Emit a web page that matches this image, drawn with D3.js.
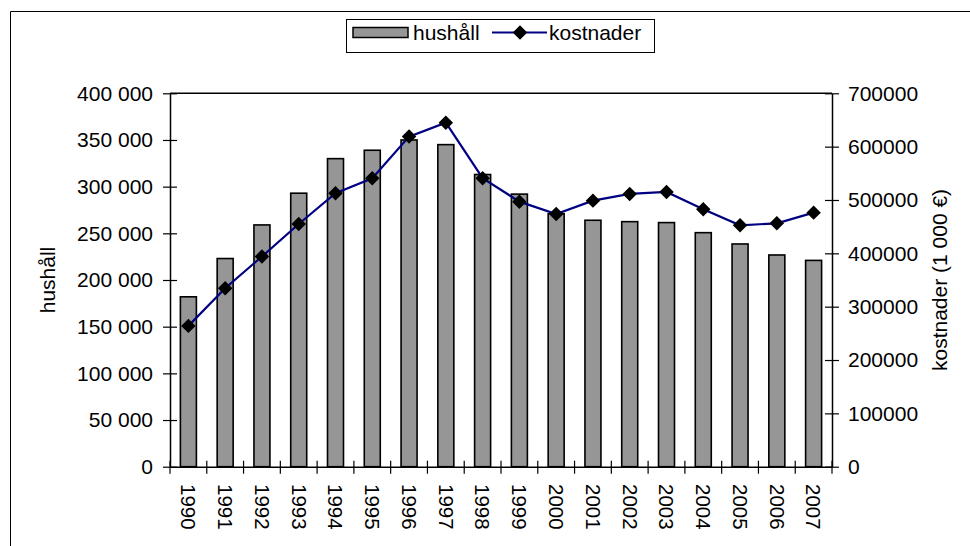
<!DOCTYPE html>
<html><head><meta charset="utf-8">
<script src="https://cdn.jsdelivr.net/npm/d3@7"></script>
<style>
html,body{margin:0;padding:0;background:#fff;}
svg{display:block;font-family:"Liberation Sans",Arial,sans-serif;}
</style></head>
<body>
<svg id="c" width="970" height="546"></svg>
<script>
const years = ["1990","1991","1992","1993","1994","1995","1996","1997","1998","1999","2000","2001","2002","2003","2004","2005","2006","2007"];
const hushall = [182000,223000,259000,293000,330000,339000,350000,345000,313000,292000,271000,264000,262500,261500,250700,238600,226800,221000];
const kostnader = [264000,334500,394000,455000,512600,540800,618800,645000,540800,496900,473800,498800,511300,515000,482600,452600,456300,476300];
const leftTicks = [0,50000,100000,150000,200000,250000,300000,350000,400000];
const rightTicks = [0,100000,200000,300000,400000,500000,600000,700000];
const seriesNames = ["hushåll","kostnader"];
const leftTitle = "hushåll";
const rightTitle = "kostnader (1 000 €)";

const svg = d3.select("#c");
const L = 170, R = 832, T = 93.3, B = 466.7;
const x = d3.scaleBand().domain(years).range([L, R]).paddingInner(0.565).paddingOuter(0.2825);
const xb = d3.scaleBand().domain(years).range([L, R]);
const yL = d3.scaleLinear().domain([0, 400000]).range([B, T]);
const yR = d3.scaleLinear().domain([0, 700000]).range([B, T]);
const fs = 21;

// outer frame
svg.append("path").attr("d", "M10.5,546 V11.5 H970").attr("fill","none").attr("stroke","#000").attr("stroke-width",1);

// plot area top border
svg.append("line").attr("x1",L).attr("x2",R).attr("y1",T).attr("y2",T).attr("stroke","#000").attr("stroke-width",1.5);

// bars
svg.append("g").selectAll("rect").data(years).join("rect")
  .attr("x", d => x(d)).attr("width", x.bandwidth())
  .attr("y", (d,i) => yL(hushall[i])).attr("height", (d,i) => B - yL(hushall[i]))
  .attr("fill","#969696").attr("stroke","#000").attr("stroke-width",1.6);

// left axis
const fmt = v => v === 0 ? "0" : d3.format(",")(v).replace(/,/g, " ");
const gL = svg.append("g").attr("transform", `translate(${L},0)`)
  .call(d3.axisLeft(yL).tickValues(leftTicks).tickFormat(fmt).tickSizeInner(7).tickSizeOuter(0).tickPadding(10));
gL.selectAll(".tick line").attr("x2", 7).attr("x1", -7);
// right axis
const gR = svg.append("g").attr("transform", `translate(${R},0)`)
  .call(d3.axisRight(yR).tickValues(rightTicks).tickFormat(d3.format("d")).tickSizeInner(7).tickSizeOuter(0).tickPadding(9));
gR.selectAll(".tick line").attr("x1", -7).attr("x2", 7);
// bottom axis
const gB = svg.append("g").attr("transform", `translate(0,${B})`)
  .call(d3.axisBottom(xb).tickSize(0).tickSizeOuter(0).tickPadding(0));
gB.selectAll(".tick text").remove();
[gL,gR,gB].forEach(g => {
  g.select(".domain").attr("stroke","#000").attr("stroke-width",1.5);
  g.selectAll(".tick line").attr("stroke","#000").attr("stroke-width",1.2);
  g.selectAll("text").attr("font-size", fs).attr("fill","#000").attr("font-family",'"Liberation Sans",Arial,sans-serif');
});
// x category tick marks at band boundaries
const bounds = years.map(d => xb(d)).concat([R]);
svg.append("g").selectAll("line").data(bounds).join("line")
  .attr("x1", d => d).attr("x2", d => d).attr("y1", B - 6).attr("y2", B + 7)
  .attr("stroke","#000").attr("stroke-width",1.2);
// year labels
svg.append("g").selectAll("text").data(years).join("text")
  .attr("transform", d => `translate(${xb(d) + xb.bandwidth()/2},484) rotate(90)`)
  .attr("dy","0.35em").attr("text-anchor","start").attr("font-size", 20.5).text(d => d);

// line
const line = d3.line().x((d,i) => xb(years[i]) + xb.bandwidth()/2).y(d => yR(d));
svg.append("path").datum(kostnader).attr("d", line).attr("fill","none").attr("stroke","#000080").attr("stroke-width",2.2);
const diamond = d3.symbol().type(d3.symbolSquare).size(105);
svg.append("g").selectAll("path").data(kostnader).join("path")
  .attr("d", diamond)
  .attr("transform", (d,i) => `translate(${xb(years[i]) + xb.bandwidth()/2},${yR(d)}) rotate(45)`)
  .attr("fill","#000");

// axis titles
svg.append("text").attr("transform", `translate(55,280) rotate(-90)`).attr("text-anchor","middle").attr("font-size", fs).text(leftTitle);
svg.append("text").attr("transform", `translate(947,280) rotate(-90)`).attr("text-anchor","middle").attr("font-size", fs).text(rightTitle);

// legend
const lg = svg.append("g");
lg.append("rect").attr("x",346.5).attr("y",19.5).attr("width",308).attr("height",33).attr("fill","#fff").attr("stroke","#000").attr("stroke-width",1);
lg.append("rect").attr("x",353).attr("y",27.5).attr("width",55).attr("height",10).attr("fill","#969696").attr("stroke","#000").attr("stroke-width",1.5);
lg.append("text").attr("x",413).attr("y",39.5).attr("font-size",fs).text(seriesNames[0]);
lg.append("line").attr("x1",492).attr("x2",547).attr("y1",32.5).attr("y2",32.5).attr("stroke","#000080").attr("stroke-width",2.2);
lg.append("path").attr("d", diamond).attr("transform","translate(520,32.5) rotate(45)").attr("fill","#000");
lg.append("text").attr("x",549).attr("y",39.5).attr("font-size",fs).text(seriesNames[1]);
</script>
</body></html>
